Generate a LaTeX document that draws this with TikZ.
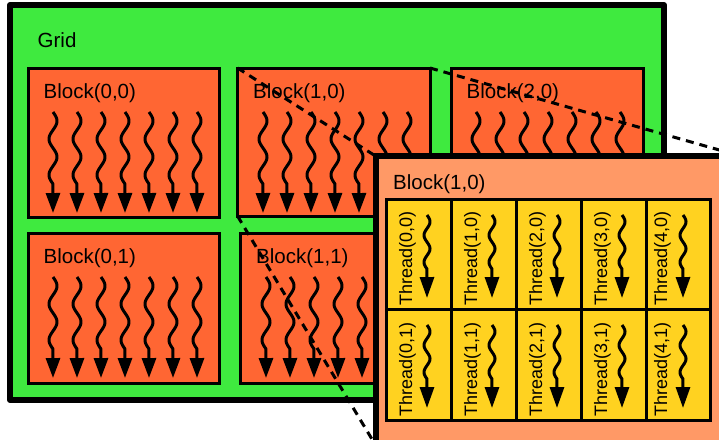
\documentclass[tikz,border=0pt]{standalone}
\usepackage{fontspec}
\setmainfont{Liberation Sans}
\usetikzlibrary{arrows.meta}

\definecolor{gridgreen}{RGB}{63,234,63}
\definecolor{blockred}{RGB}{255,102,51}
\definecolor{blocksalmon}{RGB}{255,153,102}
\definecolor{threadgold}{RGB}{255,210,32}

\pgfdeclarelayer{front}
\pgfsetlayers{main,front}

\tikzset{
  gridbox/.style={draw=black, fill=gridgreen, line width=6pt, line join=round,
    inner sep=0pt, outer sep=0pt, anchor=north west},
  blockbox/.style={draw=black, fill=blockred, line width=3pt,
    inner sep=0pt, outer sep=0pt, anchor=north west},
  zoombox/.style={draw=black, fill=blocksalmon, line width=6pt,
    inner sep=0pt, outer sep=0pt, anchor=north west},
  threadcell/.style={draw=black, fill=threadgold, line width=3pt,
    inner sep=0pt, outer sep=0pt, anchor=north west},
  caption/.style={anchor=base west, inner sep=0pt, font=\fontsize{20.5}{24}\selectfont},
  threadlabel/.style={anchor=base west, inner sep=0pt, rotate=90,
    font=\fontsize{18}{21}\selectfont},
  zoomline/.style={draw=black, line width=3pt, dash pattern=on 8pt off 6pt},
  waveline/.style={line width=3pt, line join=round},
  blockwave/.pic={
    \draw[waveline, -{Triangle[length=20pt, width=14pt]}]
      plot[domain=0:1, samples=60, smooth] ({4*sin(720*\x)}, {72*\x}) -- (0,101);
  },
  threadwave/.pic={
    \draw[waveline, -{Triangle[length=21pt, width=14pt]}]
      plot[domain=0:1, samples=60, smooth] ({3*sin(720*\x)}, {54*\x}) -- (0,83);
  },
}

\begin{document}
\begin{tikzpicture}[x=1pt, y=-1pt]
\useasboundingbox (0,0) rectangle (719,439);
\clip (0,0) rectangle (719,439);

% the grid
\node[gridbox, minimum width=654pt, minimum height=395pt] (grid) at (10,5) {};
\node[caption] (gridlabel) at ([shift={(27.5,42)}]grid.north west) {Grid};

% blocks of the grid, each with its threads
\node[blockbox, minimum width=191pt, minimum height=149pt] (b00) at (28,68) {};
\node[caption] (b00label) at ([shift={(15.5,30.5)}]b00.north west) {Block(0,0)};
\foreach \k in {0,...,6}
  \pic at ([shift={(25+24*\k,44)}]b00.north west) {blockwave};

\node[blockbox, minimum width=192.5pt, minimum height=148pt] (b10) at (237.5,68) {};
\node[caption] (b10label) at ([shift={(15.5,30.5)}]b10.north west) {Block(1,0)};
\foreach \k in {0,...,6}
  \pic at ([shift={(25.5+24*\k,44)}]b10.north west) {blockwave};

\node[blockbox, minimum width=192pt, minimum height=149pt] (b20) at (451,68) {};
\node[caption] (b20label) at ([shift={(15.5,30.5)}]b20.north west) {Block(2,0)};
\foreach \k in {0,...,6}
  \pic at ([shift={(25+24*\k,44)}]b20.north west) {blockwave};

\node[blockbox, minimum width=191pt, minimum height=150pt] (b01) at (28,233) {};
\node[caption] (b01label) at ([shift={(15.5,30.5)}]b01.north west) {Block(0,1)};
\foreach \k in {0,...,6}
  \pic at ([shift={(25+24*\k,44)}]b01.north west) {blockwave};

\node[blockbox, minimum width=190pt, minimum height=150pt] (b11) at (240.5,233) {};
\node[caption] (b11label) at ([shift={(15.5,30.5)}]b11.north west) {Block(1,1)};
\foreach \k in {0,...,6}
  \pic at ([shift={(25.5+24*\k,44)}]b11.north west) {blockwave};

% enlarged Block(1,0) with its threads, kept on the front layer
\begin{pgfonlayer}{front}
\node[zoombox, minimum width=365pt, minimum height=289pt] (zb) at (375.5,156) {};
\node[caption] (zblabel) at ([shift={(17.5,33)}]zb.north west) {Block(1,0)};

\foreach \c/\left/\w/\tx/\ax in {0/386/65/26/41, 1/451/65/26/41, 2/516/65/26/41,
                                 3/581/65/26/41, 4/646/64/21/37} {
  \foreach \r/\top/\h in {0/199/110, 1/309/111} {
    \node[threadcell, minimum width=\w pt, minimum height=\h pt]
      (t\c\r) at (\left,\top) {};
    \node[threadlabel] (t\c\r label) at ([shift={(\tx,-3.5)}]t\c\r.south west)
      {Thread(\c,\r)};
    \pic at ([shift={(\ax,16)}]t\c\r.north west) {threadwave};
  }
}
\end{pgfonlayer}

% zoom lines from Block(1,0) to its enlarged view
\draw[zoomline] (b10.north west) -- (zb.north west);
\draw[zoomline] (b10.north east) -- (zb.north east);
\draw[zoomline] (b10.south west) -- (zb.south west);
\end{tikzpicture}
\end{document}
